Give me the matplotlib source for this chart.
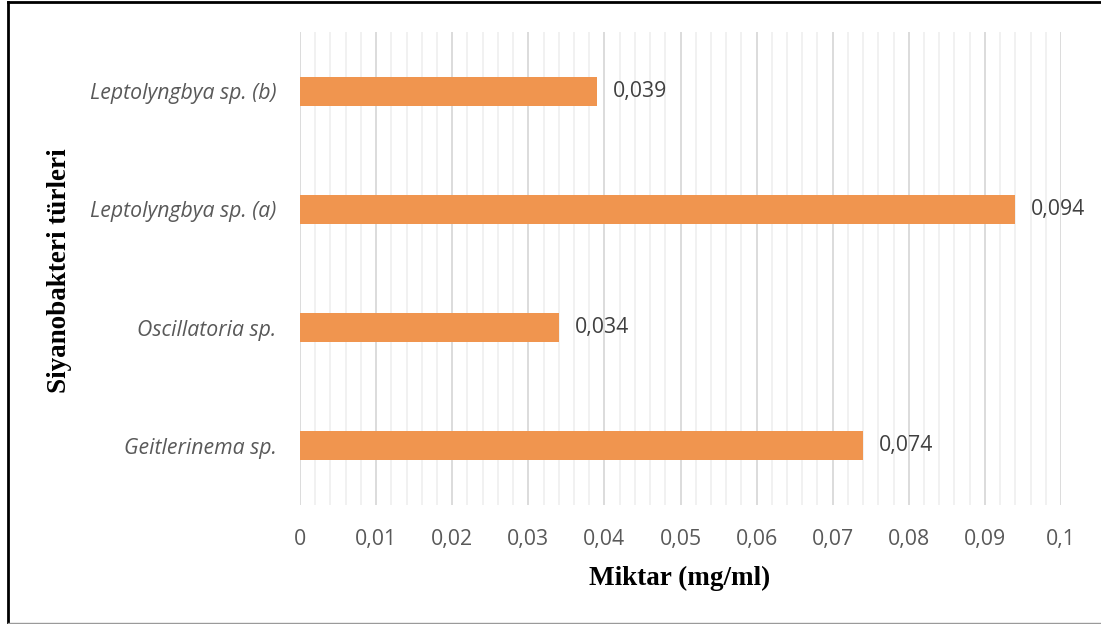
import numpy as np
import matplotlib
matplotlib.use('Agg')
import matplotlib.pyplot as plt
from matplotlib.lines import Line2D
from matplotlib.ticker import MultipleLocator, FuncFormatter

#####
# Data
#####

species = ['Geitlerinema sp.', 'Oscillatoria sp.', 'Leptolyngbya sp. (a)', 'Leptolyngbya sp. (b)']
amounts = [0.074, 0.034, 0.094, 0.039]
value_labels = ['0,074', '0,034', '0,094', '0,039']

bar_color = '#F0954F'
text_gray = '#595959'
label_font = 'Open Sans'

#####
# Chart
#####

fig = plt.figure(figsize=(11.01, 6.24), dpi=100)
ax = fig.add_axes([300 / 1101, 1 - 505 / 624, 761 / 1101, 473 / 624])

ypos = np.arange(len(species))
ax.barh(ypos, amounts, height=0.245, color=bar_color, zorder=3)

for y, v, lab in zip(ypos, amounts, value_labels):
    ax.annotate(lab, xy=(v, y), xytext=(11.5, 0), textcoords='offset points',
                ha='left', va='center', fontsize=15.3, color='#404040', family=label_font)

ax.set_xlim(0, 0.1)
ax.set_ylim(-0.5, 3.5)
ax.xaxis.set_major_locator(MultipleLocator(0.01))
ax.xaxis.set_minor_locator(MultipleLocator(0.002))
ax.xaxis.set_major_formatter(FuncFormatter(lambda x, p: ('%g' % round(x, 3)).replace('.', ',')))
ax.grid(True, which='major', axis='x', color='#d9d9d9', linewidth=1.3, zorder=0)
ax.grid(True, which='minor', axis='x', color='#f0f0f0', linewidth=1.3, zorder=0)
ax.tick_params(axis='both', which='both', length=0)
ax.tick_params(axis='x', pad=17, labelsize=15.3, labelcolor=text_gray)
ax.tick_params(axis='y', pad=17, labelsize=15.3, labelcolor=text_gray)

ax.set_yticks(ypos)
ax.set_yticklabels(species)
for t in ax.get_yticklabels():
    t.set_fontstyle('italic')
    t.set_family(label_font)
for t in ax.get_xticklabels():
    t.set_family(label_font)

for s in ax.spines.values():
    s.set_visible(False)

fig.text(680 / 1101, 1 - 578 / 624, 'Miktar (mg/ml)', ha='center', va='center',
         fontsize=19.5, fontweight='bold', family='Liberation Serif')
fig.text(60 / 1101, 1 - 271 / 624, 'Siyanobakteri türleri', ha='center', va='center',
         rotation=90, fontsize=19.5, fontweight='bold', family='Liberation Serif')

# outer frame
fig.add_artist(Line2D([8 / 1101, 8 / 1101], [1 / 624, 1 - 2 / 624], color='black', linewidth=2))
fig.add_artist(Line2D([8 / 1101, 1], [1 - 2 / 624, 1 - 2 / 624], color='black', linewidth=2))
fig.add_artist(Line2D([8 / 1101, 1], [0.8 / 624, 0.8 / 624], color='#9a9a9a', linewidth=1))

fig.savefig('out.png', dpi=100)
